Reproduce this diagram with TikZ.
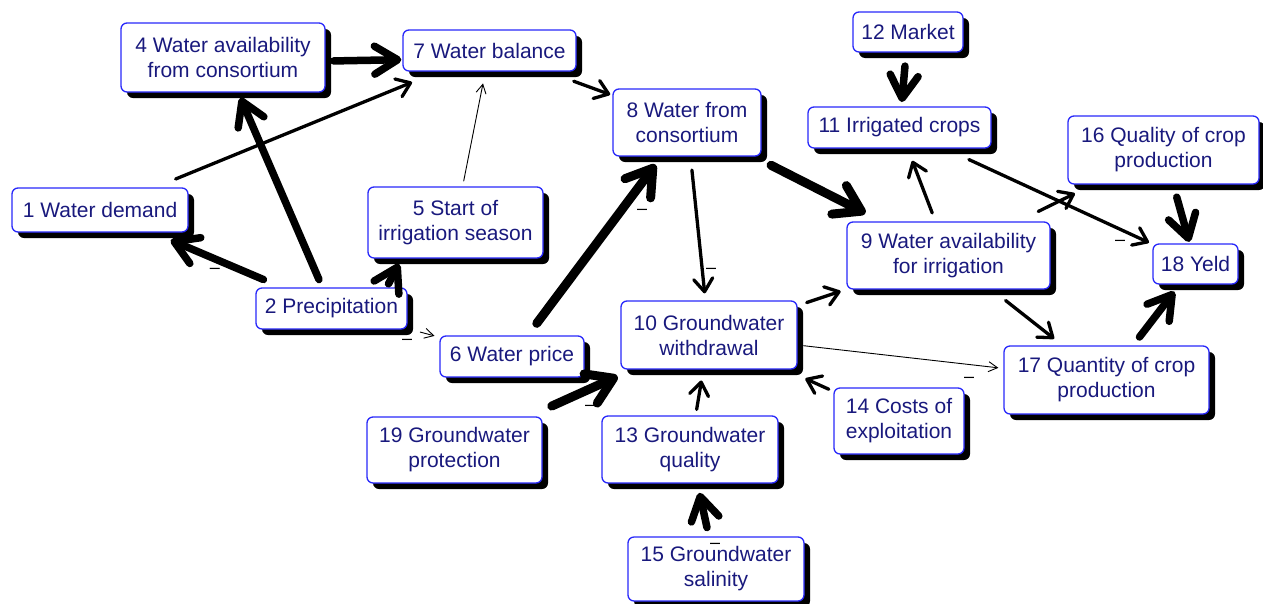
\documentclass[tikz,border=0pt]{standalone}
\usepackage{fontspec}
\setmainfont{Liberation Sans}
\usetikzlibrary{arrows.meta,shadows}

\definecolor{boxline}{RGB}{40,40,250}
\definecolor{boxtext}{RGB}{25,25,125}

\tikzset{
  var/.style={draw=boxline, line width=1.3pt, rounded corners=6pt, fill=white,
    align=center, text=boxtext, inner sep=0pt,
    font=\fontsize{21}{25}\selectfont,
    drop shadow={shadow xshift=6pt, shadow yshift=-6pt, fill=black, opacity=1}},
  thinlink/.style={line width=0.9pt, line cap=round,
    -{Straight Barb[length=9pt, width=10pt]}},
  medlink/.style={line width=3.3pt, line cap=round,
    -{Straight Barb[length=13pt, width=19pt, round]}},
  thicklink/.style={line width=7.5pt, line cap=round,
    -{Straight Barb[length=23pt, width=28pt, round]}},
  heavylink/.style={line width=9pt, line cap=round,
    -{Straight Barb[length=25pt, width=32pt, round]}},
  sign/.style={inner sep=0pt, text=black, font=\fontsize{18}{18}\selectfont},
}

\begin{document}
\begin{tikzpicture}[x=1pt, y=-1pt]
\useasboundingbox (0,0) rectangle (1263,603);

% variables of the causal loop diagram
\node[var, minimum width=176pt, minimum height=44pt] (n1)  at (100,210)    {1 Water demand};
\node[var, minimum width=151pt, minimum height=41pt] (n2)  at (331.5,308.5) {2 Precipitation};
\node[var, minimum width=204pt, minimum height=69pt] (n4)  at (223,57.5)   {4 Water availability\\from consortium};
\node[var, minimum width=175pt, minimum height=71pt] (n5)  at (455.5,222.5) {5 Start of\\irrigation season};
\node[var, minimum width=144pt, minimum height=41pt] (n6)  at (512,356.5)  {6 Water price};
\node[var, minimum width=173pt, minimum height=41pt] (n7)  at (489.5,50.5) {7 Water balance};
\node[var, minimum width=148pt, minimum height=67pt] (n8)  at (687,122.5)  {8 Water from\\consortium};
\node[var, minimum width=203pt, minimum height=67pt] (n9)  at (948.5,255.5) {9 Water availability\\for irrigation};
\node[var, minimum width=176pt, minimum height=68pt] (n10) at (709,335)    {10 Groundwater\\withdrawal};
\node[var, minimum width=183pt, minimum height=41pt] (n11) at (899.5,127.5) {11 Irrigated crops};
\node[var, minimum width=110pt, minimum height=40pt] (n12) at (908,32)     {12 Market};
\node[var, minimum width=176pt, minimum height=67pt] (n13) at (690,449.5)  {13 Groundwater\\quality};
\node[var, minimum width=130pt, minimum height=66pt] (n14) at (899,421)    {14 Costs of\\exploitation};
\node[var, minimum width=176pt, minimum height=64pt] (n15) at (716,569)    {15 Groundwater\\salinity};
\node[var, minimum width=191pt, minimum height=68pt] (n16) at (1163.5,150) {16 Quality of crop\\production};
\node[var, minimum width=205pt, minimum height=68pt] (n17) at (1106.5,380) {17 Quantity of crop\\production};
\node[var, minimum width=85pt,  minimum height=40pt] (n18) at (1195.5,264) {18 Yeld};
\node[var, minimum width=175pt, minimum height=66pt] (n19) at (454.5,450)  {19 Groundwater\\protection};

% causal links
\draw[medlink,   shorten <=22pt,  shorten >=28pt]  (n1) -- (n7);
\draw[thicklink, shorten <=8pt,   shorten >=1pt]   (n4.-2) -- (n7.186.3);
\draw[thicklink, shorten <=8.5pt, shorten >=5.6pt] (n2) -- (n4);
\draw[thicklink, shorten <=20pt,  shorten >=19pt]  (n2) -- (n1);
\draw[thicklink, shorten <=4pt,   shorten >=6pt]   (n2.21.7) -- (n5.214.3);
\draw[thinlink,  shorten <=13pt,  shorten >=5pt]   (n2) -- (n6);
\draw[thinlink,  shorten <=5.4pt, shorten >=12pt]  (n5) -- (n7);
\draw[medlink,   shorten <=28pt,  shorten >=2.3pt] (n7) -- (n8);
\draw[heavylink, shorten <=15pt,  shorten >=10pt]  (n6) -- (n8);
\draw[medlink,   shorten <=13.5pt,shorten >=7pt]   (n8) -- (n10);
\draw[heavylink, shorten <=19pt,  shorten >=18pt]  (n8) -- (n9);
\draw[thicklink, shorten <=13.5pt,shorten >=4.3pt] (n12) -- (n11);
\draw[medlink,   shorten <=9pt,   shorten >=13pt]  (n9) -- (n11);
\draw[medlink,   shorten <=26pt,  shorten >=3.7pt] (n11) -- (n18);
\draw[medlink,   shorten <=22.5pt,shorten >=20pt]  (n9) -- (n16);
\draw[thicklink, shorten <=13pt,  shorten >=1.5pt] (n16) -- (n18);
\draw[medlink,   shorten <=9.5pt, shorten >=6pt]   (n10) -- (n9);
\draw[medlink,   shorten <=17.5pt,shorten >=10.7pt](n9) -- (n17);
\draw[thicklink, shorten <=10.5pt,shorten >=8.7pt] (n17) -- (n18);
\draw[thinlink,  shorten <=6pt,   shorten >=5pt]   (n10) -- (n17);
\draw[medlink,   shorten <=5pt,   shorten >=21.7pt](n14) -- (n10);
\draw[heavylink, shorten <=25pt,  shorten >=16.3pt](n19) -- (n10);
\draw[medlink,   shorten <=6pt,   shorten >=11pt]  (n13) -- (n10);
\draw[thicklink, shorten <=9pt,   shorten >=9.4pt] (n15) -- (n13);

% negative polarity marks
\node[sign] (s21)   at (215,271)  {–};
\node[sign] (s26)   at (407,342)  {–};
\node[sign] (s68)   at (642,212)  {–};
\node[sign] (s810)  at (711,271)  {–};
\node[sign] (s1910) at (590,408)  {–};
\node[sign] (s1118) at (1120,243) {–};
\node[sign] (s1017) at (969,380)  {–};
\node[sign] (s1513) at (715,546)  {–};
\end{tikzpicture}
\end{document}
